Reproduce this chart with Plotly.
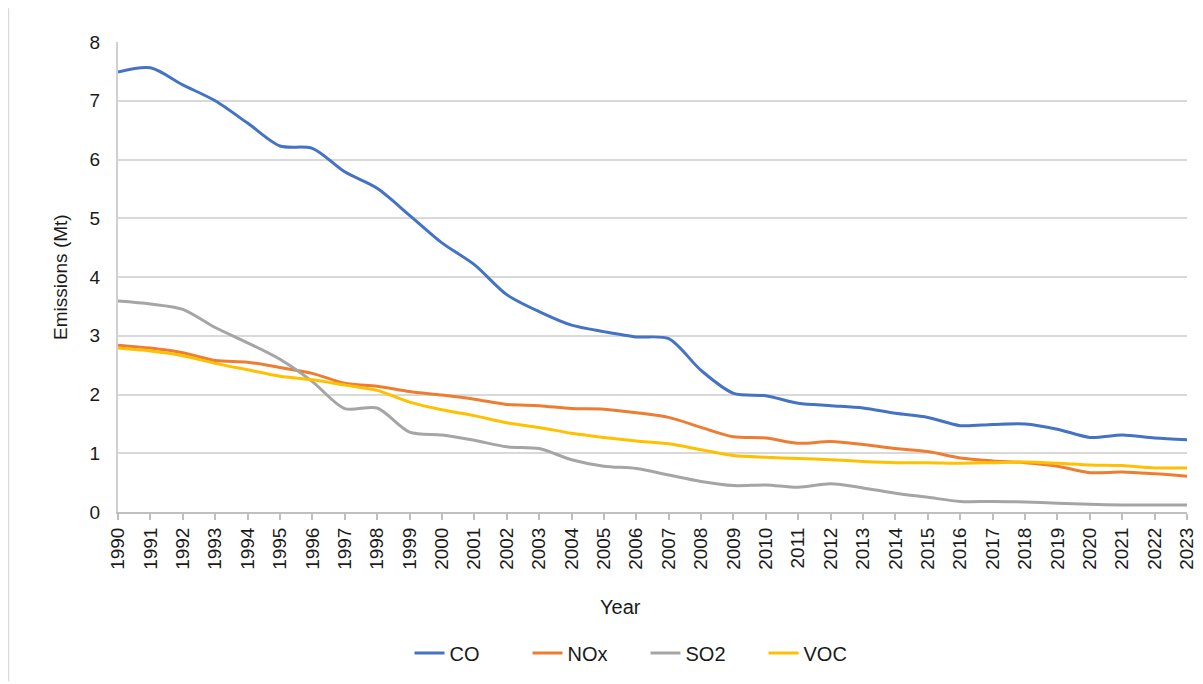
import plotly.graph_objects as go

years = list(range(1990, 2024))
year_labels = [str(y) for y in years]

co = [7.49, 7.56, 7.27, 7.00, 6.62, 6.23, 6.19, 5.79, 5.51, 5.05, 4.58, 4.21, 3.70, 3.41, 3.18, 3.07,
      2.98, 2.95, 2.41, 2.02, 1.98, 1.85, 1.81, 1.77, 1.68, 1.61, 1.47, 1.49, 1.50, 1.41, 1.27, 1.31, 1.26, 1.23]
nox = [2.84, 2.79, 2.71, 2.58, 2.55, 2.46, 2.36, 2.19, 2.14, 2.05, 1.99, 1.92, 1.83, 1.81, 1.76, 1.75,
       1.69, 1.61, 1.44, 1.28, 1.26, 1.17, 1.20, 1.15, 1.08, 1.03, 0.92, 0.87, 0.84, 0.78, 0.67, 0.68, 0.65, 0.61]
so2 = [3.59, 3.54, 3.45, 3.14, 2.88, 2.60, 2.22, 1.76, 1.77, 1.36, 1.31, 1.22, 1.11, 1.08, 0.89, 0.78,
       0.74, 0.63, 0.52, 0.45, 0.46, 0.42, 0.48, 0.41, 0.32, 0.25, 0.18, 0.18, 0.17, 0.15, 0.13, 0.12, 0.12, 0.12]
voc = [2.79, 2.74, 2.66, 2.53, 2.42, 2.31, 2.25, 2.16, 2.07, 1.87, 1.74, 1.64, 1.52, 1.44, 1.34, 1.27,
       1.21, 1.16, 1.06, 0.96, 0.93, 0.91, 0.89, 0.86, 0.84, 0.84, 0.83, 0.84, 0.85, 0.83, 0.80, 0.79, 0.75, 0.75]

series = [("CO", co, "#4472C4"), ("NOx", nox, "#ED7D31"), ("SO2", so2, "#A5A5A5"), ("VOC", voc, "#FFC000")]

fig = go.Figure()
for name, vals, col in series:
    fig.add_trace(go.Scatter(x=years, y=vals, name=name, mode="lines",
                             line=dict(color=col, width=3, shape="spline", smoothing=0.8)))

font_family = "Liberation Sans, Arial"
txt = "#1a1a1a"
fig.update_layout(
    width=1195, height=676,
    margin=dict(l=110, r=16, t=34, b=172, autoexpand=False),
    paper_bgcolor="white", plot_bgcolor="white",
    font=dict(family=font_family, size=18, color=txt),
    showlegend=True,
    legend=dict(orientation="h", x=0.2727, xanchor="left", y=-0.30, yanchor="middle",
                entrywidth=73, entrywidthmode="pixels",
                font=dict(size=20, color=txt)),
    xaxis=dict(range=[1990, 2023], tickmode="array", tickvals=years, ticktext=year_labels,
               tickangle=-90, showgrid=False, zeroline=False, showline=True, linecolor="#BFBFBF",
               linewidth=2, ticks="outside", ticklen=6, tickcolor="#BFBFBF", tickwidth=1.5,
               automargin=False, tickfont=dict(size=19, color=txt)),
    yaxis=dict(range=[0, 8], dtick=1, showgrid=True, gridcolor="#D9D9D9", gridwidth=2,
               zeroline=False, showline=True, linecolor="#D0D0D0", linewidth=2,
               automargin=False, ticks="", ticklabelstandoff=12, tickfont=dict(size=19, color=txt)),
    annotations=[
        dict(text="Year", xref="paper", yref="paper", x=0.4705, y=-0.202, xanchor="center",
             yanchor="middle", showarrow=False, font=dict(size=20, color=txt)),
        dict(text="Emissions (Mt)", xref="paper", yref="paper", x=-0.0543, y=0.5, xanchor="center",
             yanchor="middle", textangle=-90, showarrow=False, font=dict(size=19, color=txt)),
    ],
    shapes=[dict(type="line", xref="paper", yref="paper", x0=-0.1025, x1=-0.1025, y0=-0.36, y1=1.072,
                 line=dict(color="#D9D9D9", width=1.5))],
)

fig.write_html("out.html")
